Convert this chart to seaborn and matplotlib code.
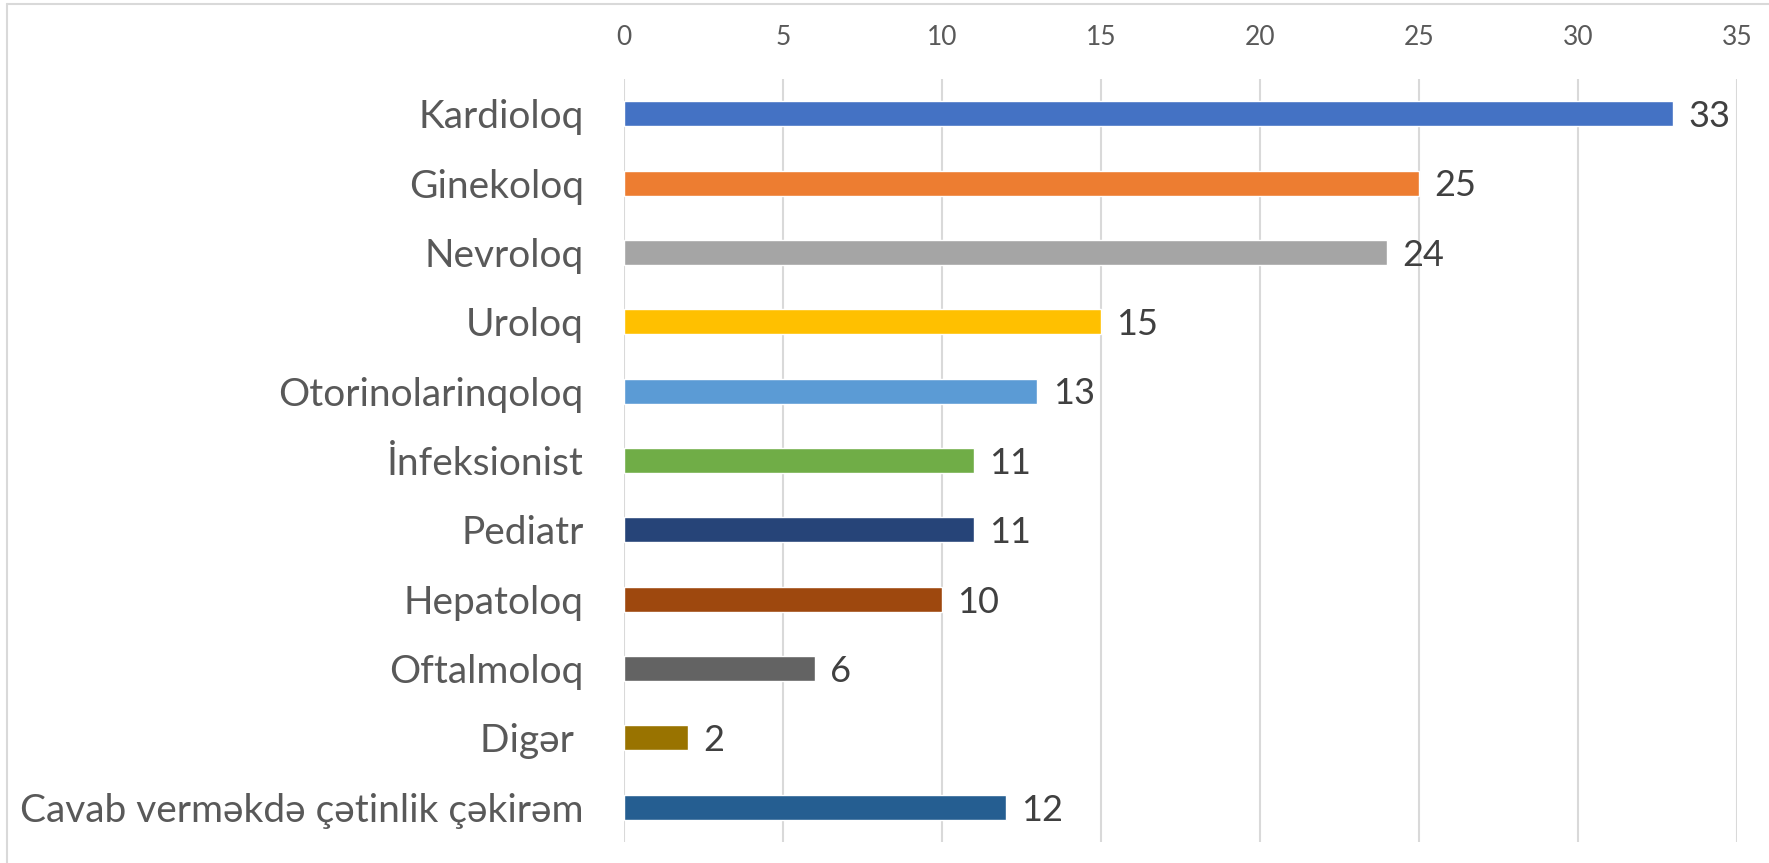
import matplotlib.pyplot as plt
from matplotlib.lines import Line2D
import pandas as pd
import seaborn as sns

categories = ["Kardioloq", "Ginekoloq", "Nevroloq", "Uroloq", "Otorinolarinqoloq",
              "İnfeksionist", "Pediatr", "Hepatoloq", "Oftalmoloq", "Digər ",
              "Cavab verməkdə çətinlik çəkirəm"]
values = [33, 25, 24, 15, 13, 11, 11, 10, 6, 2, 12]
colors = ["#4472C4", "#ED7D31", "#A5A5A5", "#FFC000", "#5B9BD5", "#70AD47",
          "#264478", "#9E480E", "#636363", "#997300", "#255E91"]
xticks = [0, 5, 10, 15, 20, 25, 30, 35]

df = pd.DataFrame({"cat": categories, "val": values})

sns.set_style("white")
plt.rcParams["font.family"] = ["Lato", "DejaVu Sans"]

fig = plt.figure(figsize=(17.69, 8.63), dpi=100)
ax = fig.add_axes([0.3527, 0.0243, 0.9819 - 0.3527, 0.9085 - 0.0243])

sns.barplot(data=df, y="cat", x="val", hue="cat", palette=colors, orient="h",
            dodge=False, legend=False, width=0.36, saturation=1, ax=ax)

ax.set_xlim(0, 35)
ax.set_ylim(10.5, -0.5)
ax.set_xticks(xticks)
ax.xaxis.tick_top()
ax.tick_params(axis="x", length=0, pad=21, labelsize=19, labelcolor="#595959")
ax.tick_params(axis="y", length=0, pad=29, labelsize=28, labelcolor="#595959")
ax.set_xlabel("")
ax.set_ylabel("")
for s in ax.spines.values():
    s.set_visible(False)
ax.grid(axis="x", color="#D9D9D9", linewidth=1.5)
ax.set_axisbelow(True)

for i, v in enumerate(values):
    ax.annotate(str(v), (v, i), xytext=(11, -2), textcoords="offset points",
                va="center", ha="left", fontsize=26, color="#404040")

# light frame around the chart (top and left edges visible)
fc = "#D9D9D9"
fig.add_artist(Line2D([0.004, 1.0], [0.995, 0.995], color=fc, lw=1.5, transform=fig.transFigure))
fig.add_artist(Line2D([0.004, 0.004], [0.0, 0.995], color=fc, lw=1.5, transform=fig.transFigure))

fig.savefig("out.png", dpi=100)
